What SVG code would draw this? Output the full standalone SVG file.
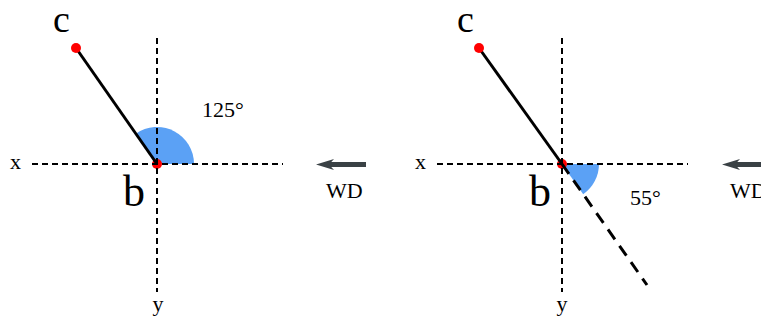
<svg xmlns="http://www.w3.org/2000/svg" width="761" height="322" viewBox="0 0 761 322">
<style>
.axis{stroke:#000;stroke-width:2;stroke-dasharray:6 4;fill:none}
.rod{stroke:#000;stroke-width:3;fill:none}
.ext{stroke:#000;stroke-width:3;stroke-dasharray:12 8;fill:none}
.wedge{fill:#5ba1f5;stroke:none}
.pt{fill:#ff0000}
.wd{stroke:#3a4145;stroke-width:5;fill:none}
text{font-family:"Liberation Serif","Times New Roman",serif;fill:#000}
.big{font-size:38px}
.bigb{font-size:44px}
.ax{font-size:22px}
.lbl{font-size:22px}
</style>
<defs>
<marker id="ah" viewBox="0 0 18 11" refX="5" refY="5.5" markerWidth="18" markerHeight="11" markerUnits="userSpaceOnUse" orient="auto">
<path d="M0,0 L18,5.5 L0,11 L5,5.5 Z" fill="#3a4145"/>
</marker>
</defs>

<g id="panel-left">
<path class="wedge" d="M157,164 L194,164 A37,37 0 0 0 135.8,133.7 Z"/>
<g id="node-b-left"><circle class="pt" cx="157" cy="164" r="5"/><text class="bigb" x="123" y="206">b</text></g>
<g id="connectors-left">
<line class="axis" x1="32" y1="164" x2="283" y2="164"/>
<line class="axis" x1="157" y1="38" x2="157" y2="292"/>
<line class="rod" x1="76" y1="48" x2="157" y2="164"/>
<line class="wd" x1="366" y1="164.5" x2="329" y2="164.5" marker-end="url(#ah)"/>
</g>
<g id="node-c-left"><circle class="pt" cx="76" cy="48" r="5"/><text class="big" x="53" y="32">c</text></g>
<text class="ax" x="10" y="169">x</text>
<text class="ax" x="158" y="311" text-anchor="middle">y</text>
<text class="lbl" x="202" y="117">125°</text>
<text class="lbl" x="326" y="198">WD</text>
</g>

<g id="panel-right">
<path class="wedge" d="M562,164 L599,164 A37,37 0 0 1 583.2,194.3 Z"/>
<g id="node-b-right"><circle class="pt" cx="562" cy="164" r="5"/><text class="bigb" x="529" y="206">b</text></g>
<g id="connectors-right">
<line class="axis" x1="437" y1="164" x2="688" y2="164"/>
<line class="axis" x1="562" y1="38" x2="562" y2="292"/>
<line class="rod" x1="479" y1="48" x2="562" y2="164"/>
<line class="ext" x1="562" y1="164" x2="647" y2="285"/>
<line class="wd" x1="775" y1="164.5" x2="735" y2="164.5" marker-end="url(#ah)"/>
</g>
<g id="node-c-right"><circle class="pt" cx="479" cy="48" r="5"/><text class="big" x="457" y="32">c</text></g>
<text class="ax" x="415" y="169">x</text>
<text class="ax" x="562" y="311" text-anchor="middle">y</text>
<text class="lbl" x="630" y="205">55°</text>
<text class="lbl" x="730" y="198">WD</text>
</g>
</svg>
